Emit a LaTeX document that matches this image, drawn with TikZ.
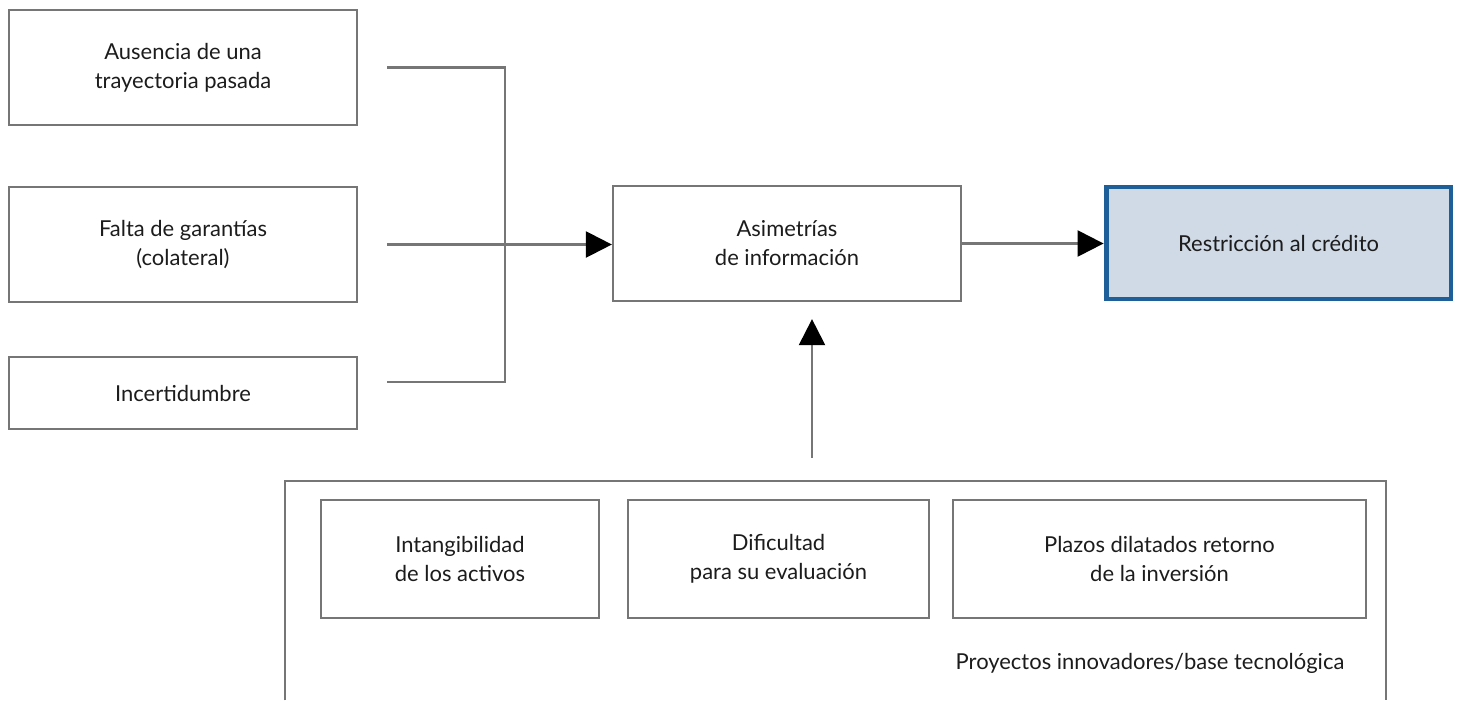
\documentclass[tikz,border=0pt]{standalone}
\usepackage{fontspec}
\setmainfont{Lato}
\usepackage{tikz}
\usetikzlibrary{arrows.meta,positioning}

\definecolor{boxgray}{HTML}{767676}
\definecolor{txtgray}{HTML}{1C1C1C}
\definecolor{credfill}{HTML}{D0DAE6}
\definecolor{credline}{HTML}{1F5F99}

\begin{document}
\begin{tikzpicture}[
    x=0.02cm, y=-0.02cm,
    font=\fontsize{12.5}{16.5}\selectfont, text=txtgray,
    block/.style={rectangle, draw=boxgray, line width=1.3pt, align=center, minimum width=6.96cm, minimum height=2.3cm},
    small/.style={block, minimum height=1.44cm},
    inner/.style={block, minimum height=2.36cm},
    target/.style={rectangle, draw=credline, line width=2.8pt, fill=credfill, align=center, minimum width=6.9cm, minimum height=2.24cm},
    conn/.style={draw=boxgray, line width=1.3pt},
    line/.style={conn, -{Triangle[length=0.52cm, width=0.52cm, fill=black, color=black]}}
]
\useasboundingbox (0,0) rectangle (1462,700);

% left column
\node[block] (nopast) at (183,67.5) {Ausencia de una\\trayectoria pasada};
\node[block] (nocol) at (183,244.5) {Falta de garantías\\(colateral)};
\node[small] (incert) at (183,393) {Incertidumbre};

% middle and right
\node[block] (asim) at (787,243.5) {Asimetrías\\de información};
\node[target] (restr) at (1278.5,243) {Restricción al crédito};

% bottom group
\node[rectangle, minimum width=22.02cm, minimum height=4.38cm] (proy) at (835.5,590.5) {};
\draw[conn] (proy.south west) |- (proy.north east) -- (proy.south east);
\node[inner, minimum width=5.56cm] (intang) at (460,559) {Intangibilidad\\de los activos};
\node[inner, minimum width=6.02cm] (dific) at (778.5,559) {Dificultad\\para su evaluación};
\node[inner, minimum width=8.26cm] (plazos) at (1159.5,559) {Plazos dilatados retorno\\de la inversión};
\node (lbl) at (1150,663) {Proyectos innovadores/base tecnológica};

\coordinate (bus) at (505,382);
\coordinate (upx) at (812,0);

\draw[conn, shorten <=0.58cm, shorten >=0.58cm] (nopast.east) -| (bus) -- (bus -| incert.east);
\draw[line, shorten <=0.58cm] (nocol.east) -- (nocol.east -| asim.west);
\draw[line] (asim.east) -- (asim.east -| restr.west);
\draw[line, shorten <=0.46cm, shorten >=0.34cm] (proy.north -| upx) -- (asim.south -| upx);
\end{tikzpicture}
\end{document}
